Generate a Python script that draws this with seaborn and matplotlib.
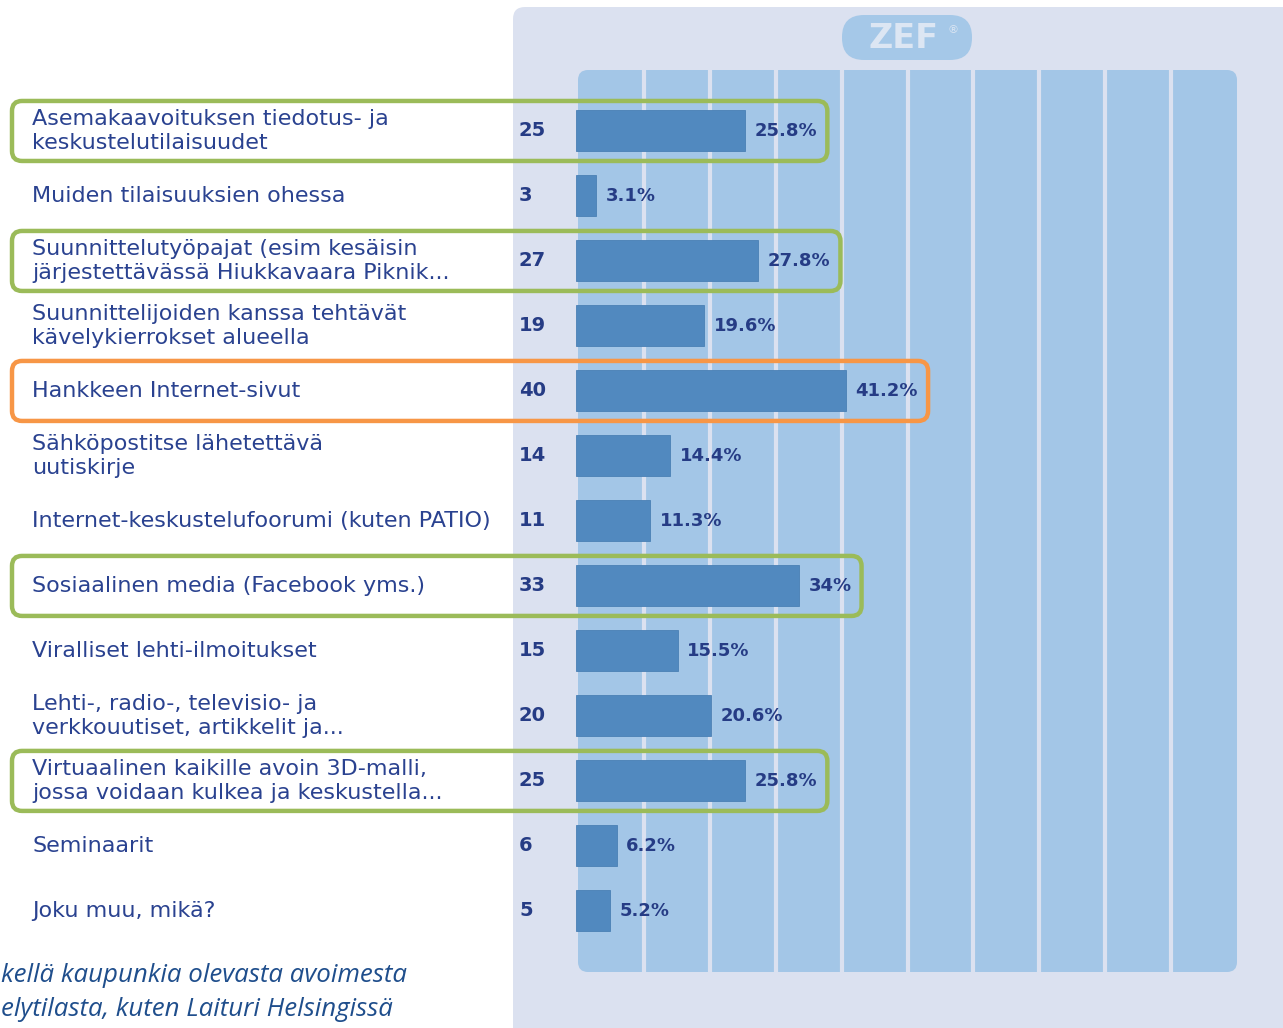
import numpy as np
import pandas as pd
import matplotlib
matplotlib.use("Agg")
import matplotlib.pyplot as plt
import seaborn as sns
from matplotlib.patches import FancyBboxPatch
from matplotlib.transforms import IdentityTransform, blended_transform_factory

# Data
labels = [
    "Asemakaavoituksen tiedotus- ja\nkeskustelutilaisuudet",
    "Muiden tilaisuuksien ohessa",
    "Suunnittelutyöpajat (esim kesäisin\njärjestettävässä Hiukkavaara Piknik...",
    "Suunnittelijoiden kanssa tehtävät\nkävelykierrokset alueella",
    "Hankkeen Internet-sivut",
    "Sähköpostitse lähetettävä\nuutiskirje",
    "Internet-keskustelufoorumi (kuten PATIO)",
    "Sosiaalinen media (Facebook yms.)",
    "Viralliset lehti-ilmoitukset",
    "Lehti-, radio-, televisio- ja\nverkkouutiset, artikkelit ja...",
    "Virtuaalinen kaikille avoin 3D-malli,\njossa voidaan kulkea ja keskustella...",
    "Seminaarit",
    "Joku muu, mikä?",
]
counts = [25, 3, 27, 19, 40, 14, 11, 33, 15, 20, 25, 6, 5]
percents = [25.8, 3.1, 27.8, 19.6, 41.2, 14.4, 11.3, 34, 15.5, 20.6, 25.8, 6.2, 5.2]
highlight = ["green", None, "green", None, "orange", None, None,
             "green", None, None, "green", None, None]
note_lines = ["kellä kaupunkia olevasta avoimesta",
              "elytilasta, kuten Laituri Helsingissä"]

df = pd.DataFrame({"label": labels, "count": counts, "pct": percents})

W, H = 1283, 1028
PANEL = "#dbe1f0"
AREA = "#a3c6e7"
BAR = "#5189bf"
NAVY = "#263c85"
box_colors = {"green": "#9bbb59", "orange": "#f79646"}

fig = plt.figure(figsize=(W / 100, H / 100), dpi=100)
fig.patch.set_facecolor("white")

# Background panel and plot area (pixel coordinates)
fig.add_artist(FancyBboxPatch((513, -30), 800, 1028 - 7 + 30,
                              boxstyle="round,pad=0,rounding_size=12",
                              transform=IdentityTransform(), fc=PANEL, ec="none", zorder=-3))
fig.add_artist(FancyBboxPatch((578, H - 972), 659, 902,
                              boxstyle="round,pad=0,rounding_size=10",
                              transform=IdentityTransform(), fc=AREA, ec="none", zorder=-2))

# ZEF logo pill
fig.add_artist(FancyBboxPatch((842, H - 60), 130, 45,
                              boxstyle="round,pad=0,rounding_size=22",
                              transform=IdentityTransform(), fc="#a5c8e8", ec="none", zorder=-1))
fig.text(904 / W, 1 - 39 / H, "ZEF", ha="center", va="center", fontsize=24,
         fontweight="bold", color="#dce6f3")
fig.text(953 / W, 1 - 30 / H, "®", ha="center", va="center", fontsize=8,
         color="#dce6f3")

ax = fig.add_axes([578 / W, (H - 972) / H, 659 / W, 902 / H])
ax.set_facecolor("none")

px_per_pct = 6.55
x0 = 2 / px_per_pct
sns.barplot(data=df, x="pct", y="label", orient="h", color=BAR, width=0.63,
            saturation=1, ax=ax)
for p in ax.patches:
    p.set_clip_on(False)
    p.set_edgecolor("#4a80b5")
    p.set_linewidth(0.6)

xmax = x0 + 659 / px_per_pct
ax.set_xlim(x0, xmax)
ax.set_ylim(12.94, -0.938)
ax.set_xticks(np.linspace(x0, xmax, 11)[1:-1])
ax.grid(axis="x", color=PANEL, linewidth=3)
ax.grid(axis="y", visible=False)
ax.set_axisbelow(True)
ax.tick_params(left=False, bottom=False, labelleft=False, labelbottom=False)
ax.set_xlabel("")
ax.set_ylabel("")
for s in ax.spines.values():
    s.set_visible(False)

tr = blended_transform_factory(fig.transFigure, ax.transData)
pct_texts = []
for i, (lab, c, p) in enumerate(zip(labels, counts, percents)):
    ax.text(32 / W, i, lab, transform=tr, ha="left", va="center", fontsize=16,
            color="#2a4290", linespacing=1.2, family="DejaVu Sans")
    ax.text(519 / W, i, str(c), transform=tr, ha="left", va="center", fontsize=14,
            fontweight="bold", color=NAVY, family="DejaVu Sans")
    t = ax.annotate(f"{p:g}%", xy=(p, i), xytext=(7, 0), textcoords="offset points",
                    ha="left", va="center", fontsize=13, fontweight="bold",
                    color=NAVY, family="DejaVu Sans", annotation_clip=False)
    pct_texts.append(t)

# Italic note text at the bottom left
fig.text(1 / W, 1 - 975 / H, note_lines[0], ha="left", va="center",
         fontsize=18.6, style="italic", color="#1f4e8c", family="Open Sans")
fig.text(1 / W, 1 - 1009 / H, note_lines[1], ha="left", va="center",
         fontsize=18.6, style="italic", color="#1f4e8c", family="Open Sans")

# Highlight boxes around selected rows
fig.canvas.draw()
renderer = fig.canvas.get_renderer()
for i, hl in enumerate(highlight):
    if hl is None:
        continue
    bb = pct_texts[i].get_window_extent(renderer)
    yc = ax.transData.transform((0, i))[1]
    right = bb.x1 + 10
    fig.add_artist(FancyBboxPatch((12, yc - 30), right - 12, 60,
                                  boxstyle="round,pad=0,rounding_size=10",
                                  transform=IdentityTransform(), fc="none",
                                  ec=box_colors[hl], lw=3.2, zorder=5))

fig.savefig("out.png", dpi=100)
